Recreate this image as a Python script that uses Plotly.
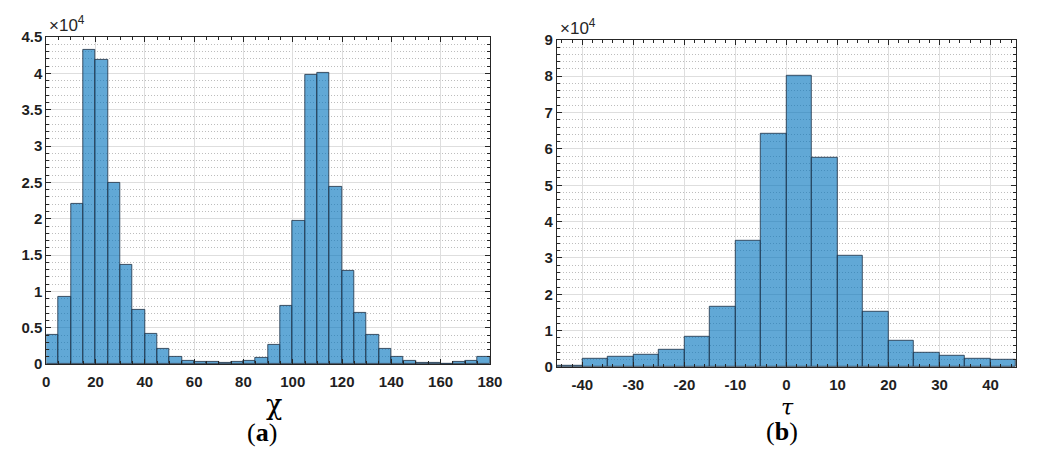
import plotly.graph_objects as go

# ---- data (a): chi histogram, bin width 5 ----
chi_bin_left = [0, 5, 10, 15, 20, 25, 30, 35, 40, 45, 50, 55, 60, 65, 70, 75, 80, 85,
                90, 95, 100, 105, 110, 115, 120, 125, 130, 135, 140, 145, 150, 155, 160, 165, 170, 175]
chi_counts = [4000, 9300, 22000, 43200, 41800, 24900, 13600, 7400, 4100, 2150, 1000, 400,
              250, 250, 200, 300, 400, 870, 2600, 8000, 19700, 39800, 40100, 24400,
              12800, 7100, 4000, 2100, 1000, 450, 200, 200, 100, 250, 400, 1000]

# ---- data (b): tau histogram, bin width 5 ----
tau_bin_left = [-45, -40, -35, -30, -25, -20, -15, -10, -5, 0, 5, 10, 15, 20, 25, 30, 35, 40]
tau_counts = [300, 2400, 2700, 3300, 4800, 8200, 16500, 34700, 64200, 80200, 57600,
              30500, 15100, 7300, 4000, 3000, 2400, 2100]

bin_width = 5

chi_ticks = [0, 20, 40, 60, 80, 100, 120, 140, 160, 180]
chi_tick_labels = ["0", "20", "40", "60", "80", "100", "120", "140", "160", "180"]
chi_y_ticks = [0, 5000, 10000, 15000, 20000, 25000, 30000, 35000, 40000, 45000]
chi_y_labels = ["0", "0.5", "1", "1.5", "2", "2.5", "3", "3.5", "4", "4.5"]
tau_ticks = [-40, -30, -20, -10, 0, 10, 20, 30, 40]
tau_tick_labels = ["-40", "-30", "-20", "-10", "0", "10", "20", "30", "40"]
tau_y_ticks = [0, 10000, 20000, 30000, 40000, 50000, 60000, 70000, 80000, 90000]
tau_y_labels = ["0", "1", "2", "3", "4", "5", "6", "7", "8", "9"]

def bold(labels):
    return ["<b>" + s + "</b>" for s in labels]

FILL = "rgba(0,114,189,0.62)"
EDGE = "rgba(35,55,75,0.85)"
AX = "#262626"
TICKFONT = dict(family="Arial, Liberation Sans, sans-serif", size=15, color="#1f1f1f")

fig = go.Figure()
fig.add_trace(go.Bar(
    x=[b + bin_width / 2 for b in chi_bin_left], y=chi_counts, width=bin_width,
    marker=dict(color=FILL, line=dict(color=EDGE, width=1)),
    xaxis="x", yaxis="y", showlegend=False))
fig.add_trace(go.Bar(
    x=[b + bin_width / 2 for b in tau_bin_left], y=tau_counts, width=bin_width,
    marker=dict(color=FILL, line=dict(color=EDGE, width=1)),
    xaxis="x2", yaxis="y2", showlegend=False))

W, H = 1037, 454
def dx(a, b):
    return [a / W, b / W]
def dy(top, bottom):
    return [1 - bottom / H, 1 - top / H]

common = dict(showline=True, linecolor=AX, linewidth=1, mirror="ticks", ticks="inside",
              ticklen=5, tickcolor=AX, showgrid=True, gridcolor="#DEDEDE", gridwidth=1,
              zeroline=False, tickfont=TICKFONT, fixedrange=True)
minor_y = dict(ticks="inside", ticklen=3, tickcolor=AX, showgrid=True,
               griddash="1px,2px", gridcolor="#BDBDBD", gridwidth=1)

fig.update_layout(
    width=W, height=H, margin=dict(l=0, r=0, t=0, b=0),
    paper_bgcolor="white", plot_bgcolor="white", bargap=0,
    xaxis=dict(common, domain=dx(43, 494), range=[0, 180], tickvals=chi_ticks,
               ticktext=bold(chi_tick_labels), ticklabelstandoff=4,
               minor=dict(dtick=5, tick0=0, ticks="inside", ticklen=3, tickcolor=AX, showgrid=False),
               anchor="y"),
    yaxis=dict(common, domain=dy(29, 369), range=[0, 45000], tickvals=chi_y_ticks,
               ticktext=bold(chi_y_labels), minor=dict(minor_y, dtick=1000, tick0=0),
               anchor="x"),
    xaxis2=dict(common, domain=dx(562, 1029), range=[-45, 45], tickvals=tau_ticks,
                ticktext=bold(tau_tick_labels), ticklabelstandoff=4,
                minor=dict(dtick=2, tick0=0, ticks="inside", ticklen=3, tickcolor=AX, showgrid=False),
                anchor="y2"),
    yaxis2=dict(common, domain=dy(32, 372), range=[0, 90000], tickvals=tau_y_ticks,
                ticktext=bold(tau_y_labels), minor=dict(minor_y, dtick=2000, tick0=0),
                anchor="x2"),
)

ann_font = dict(family="Arial, Liberation Sans, sans-serif", size=17, color=AX)
fig.add_annotation(x=44 / W, y=1 - 16 / H, xref="paper", yref="paper", xanchor="left", yanchor="middle",
                   text="×10<sup>4</sup>", showarrow=False, font=ann_font)
fig.add_annotation(x=563 / W, y=1 - 19 / H, xref="paper", yref="paper", xanchor="left", yanchor="middle",
                   text="×10<sup>4</sup>", showarrow=False, font=ann_font)
fig.add_annotation(x=275 / W, y=1 - 411 / H, xref="paper", yref="paper", xanchor="center", yanchor="middle",
                   text="χ", showarrow=False, font=dict(family="DejaVu Serif", size=27, color="black"))
fig.add_annotation(x=262 / W, y=1 - 440 / H, xref="paper", yref="paper", xanchor="center", yanchor="middle",
                   text="(<b>a</b>)", showarrow=False, font=dict(family="Liberation Serif", size=26, color="black"))
fig.add_annotation(x=797 / W, y=1 - 414 / H, xref="paper", yref="paper", xanchor="center", yanchor="middle",
                   text="<i>τ</i>", showarrow=False, font=dict(family="DejaVu Serif", size=22, color="black"))
fig.add_annotation(x=791 / W, y=1 - 439 / H, xref="paper", yref="paper", xanchor="center", yanchor="middle",
                   text="(<b>b</b>)", showarrow=False, font=dict(family="Liberation Serif", size=26, color="black"))

fig.write_html("out.html")
